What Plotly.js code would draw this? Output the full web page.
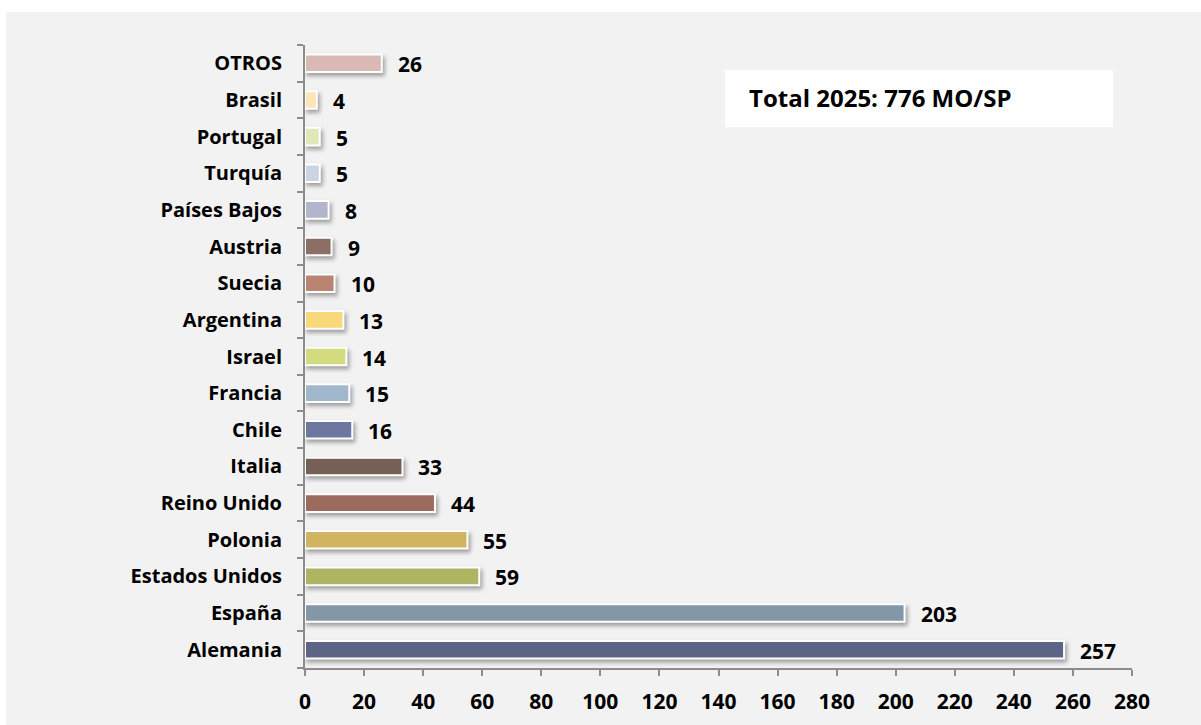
<!DOCTYPE html>
<html>
<head>
<meta charset="utf-8">
<script src="https://cdn.plot.ly/plotly-3.0.1.min.js"></script>
<style>
html,body{margin:0;padding:0;background:#ffffff;}
#chart{position:absolute;left:6px;top:12px;width:1195px;height:713px;}
#chart .bars .point path{filter:drop-shadow(2px 3px 2px rgba(0,0,0,0.35));}
</style>
</head>
<body>
<div id="chart"></div>
<script>
const countries = ["Alemania","España","Estados Unidos","Polonia","Reino Unido","Italia","Chile","Francia","Israel","Argentina","Suecia","Austria","Países Bajos","Turquía","Portugal","Brasil","OTROS"];
const values = [257,203,59,55,44,33,16,15,14,13,10,9,8,5,5,4,26];
const barColors = ["#5d6587","#8497a8","#adb563","#d1b461","#9c6b5d","#765f55","#6e77a0","#a1b7cc","#d3db7f","#f9d77b","#b98472","#8d6e66","#b3b5cc","#c9d6e2","#e0e7bb","#fde5b5","#d8b9b3"];
const xTicks = [0,20,40,60,80,100,120,140,160,180,200,220,240,260,280];
const totalLabel = "Total 2025: 776 MO/SP";

const FONT = "'Open Sans', sans-serif";

const trace = {
  type: "bar",
  orientation: "h",
  y: countries,
  x: values,
  marker: {color: barColors, line: {color: "#ffffff", width: 2}},
  hoverinfo: "x+y",
  showlegend: false
};

const annotations = countries.map((c, i) => ({
  x: values[i], y: c, xref: "x", yref: "y",
  text: "<b>" + values[i] + "</b>",
  showarrow: false, xanchor: "left", yanchor: "middle",
  xshift: 14, yshift: -1,
  font: {family: FONT, size: 21, color: "#000000"}
}));
annotations.push({
  xref: "paper", yref: "paper", x: 0.534, y: 0.915,
  xanchor: "left", yanchor: "middle", showarrow: false,
  text: "<b>" + totalLabel + "</b>",
  font: {family: FONT, size: 24, color: "#000000"}
});

const layout = {
  width: 1195, height: 713,
  margin: {l: 299, r: 69, t: 33, b: 57},
  paper_bgcolor: "#f2f2f2",
  plot_bgcolor: "#f2f2f2",
  bargap: 0.52,
  font: {family: FONT, color: "#000000"},
  xaxis: {
    range: [0, 280], tickvals: xTicks, ticktext: xTicks.map(String),
    showgrid: false, zeroline: false,
    showline: true, linecolor: "#8c8c8c", linewidth: 2,
    ticks: "outside", ticklen: 6, tickcolor: "#8c8c8c", tickwidth: 2,
    ticklabelstandoff: 8,
    tickfont: {family: FONT, size: 21, color: "#000000", weight: "bold"}
  },
  yaxis: {
    type: "category", categoryorder: "array", categoryarray: countries,
    range: [-0.5, countries.length - 0.5],
    showgrid: false, zeroline: false,
    showline: true, linecolor: "#8c8c8c", linewidth: 2,
    ticks: "outside", tickson: "boundaries", ticklen: 6, tickcolor: "#8c8c8c", tickwidth: 2,
    ticklabelstandoff: 17,
    tickfont: {family: FONT, size: 20, color: "#000000", weight: "bold"}
  },
  shapes: [{
    type: "rect", xref: "paper", yref: "paper",
    x0: 0.508, x1: 0.977, y0: 0.868, y1: 0.960,
    fillcolor: "#ffffff", line: {width: 0}, layer: "below"
  }],
  annotations: annotations
};

Plotly.newPlot("chart", [trace], layout, {displayModeBar: false, staticPlot: true});
</script>
</body>
</html>
